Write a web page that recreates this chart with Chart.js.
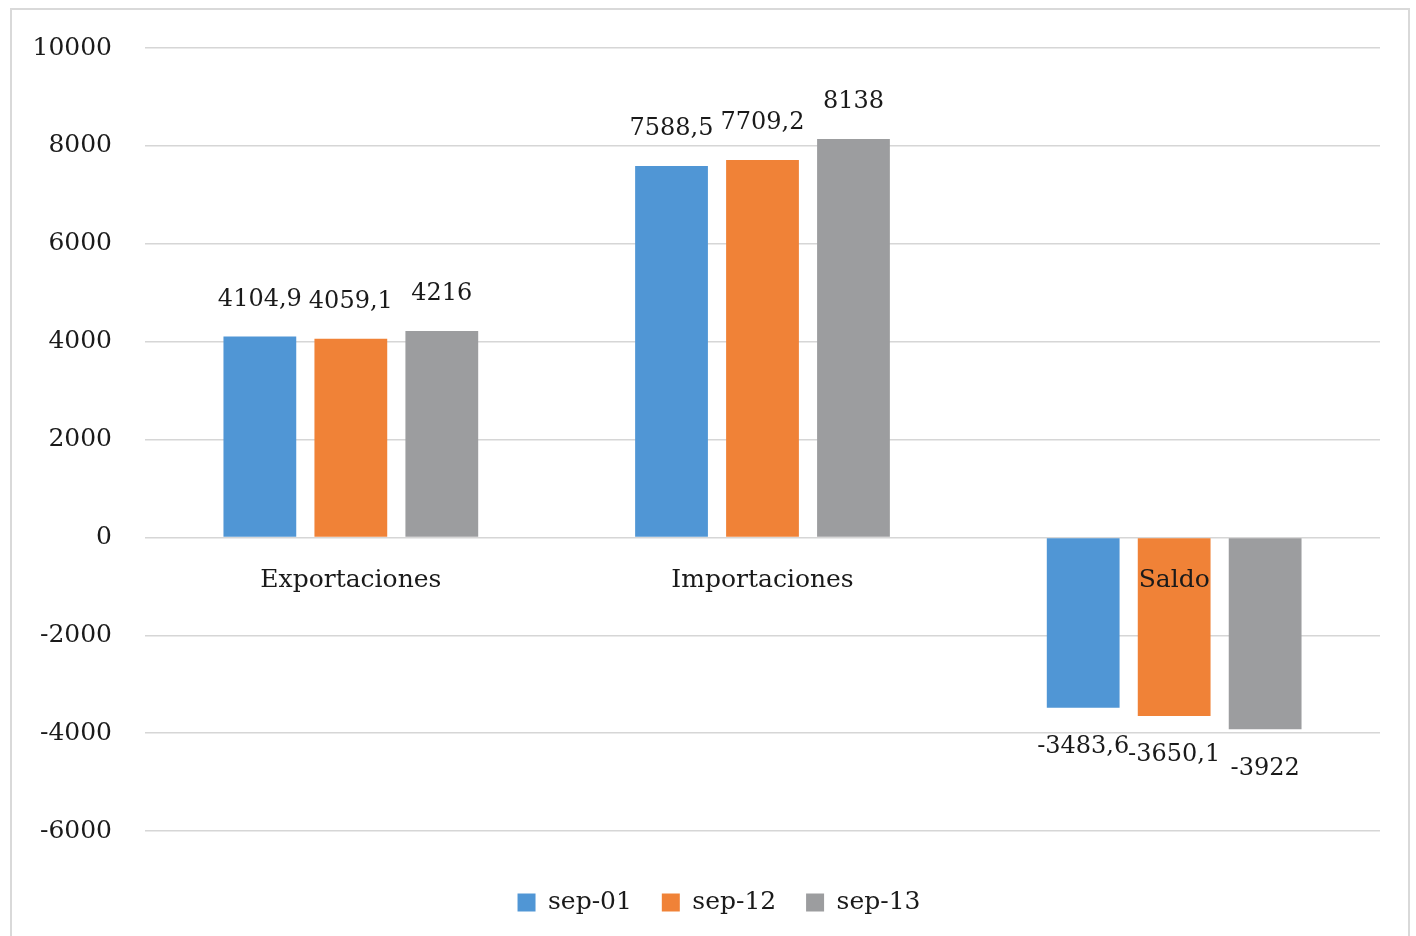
<!DOCTYPE html>
<html>
<head>
<meta charset="utf-8">
<script src="https://cdn.jsdelivr.net/npm/chart.js@4/dist/chart.umd.min.js"></script>
<style>
  html, body { margin: 0; padding: 0; background: #fff; }
  #wrap { width: 1416px; height: 936px; }
</style>
</head>
<body>
<div id="wrap"><canvas id="balanza"></canvas></div>
<script>
const categories = ['Exportaciones', 'Importaciones', 'Saldo'];
const seriesNames = ['sep-01', 'sep-12', 'sep-13'];
const sep01 = [4104.9, 7588.5, -3483.6];
const sep12 = [4059.1, 7709.2, -3650.1];
const sep13 = [4216, 8138, -3922];
const yTicks = [-6000, -4000, -2000, 0, 2000, 4000, 6000, 8000, 10000];

const colors = ['#5096d5', '#f08237', '#9c9d9f'];
const serif = '"DejaVu Serif", serif';
const ink = '#1a1a1a';

const fmt = v => String(v).replace('.', ',');

// grey frame round the chart
const framePlugin = {
  id: 'frame',
  beforeDraw(chart) {
    const c = chart.ctx;
    c.save();
    c.fillStyle = '#fff';
    c.fillRect(0, 0, chart.width, chart.height);
    c.strokeStyle = '#d9d9d9';
    c.lineWidth = 2;
    c.strokeRect(11, 9, 1398, 940);
    c.restore();
  }
};

// value labels above / below each bar
const valueLabels = {
  id: 'valueLabels',
  afterDatasetsDraw(chart) {
    const c = chart.ctx;
    c.save();
    c.font = '24px ' + serif;
    c.fillStyle = ink;
    c.textAlign = 'center';
    c.textBaseline = 'middle';
    chart.data.datasets.forEach((ds, i) => {
      chart.getDatasetMeta(i).data.forEach((bar, j) => {
        const v = ds.data[j];
        const y = v >= 0 ? bar.y - 37 : bar.y + 39;
        c.fillText(fmt(v), bar.x, y);
      });
    });
    c.restore();
  }
};

new Chart(document.getElementById('balanza'), {
  type: 'bar',
  data: {
    labels: categories,
    datasets: [sep01, sep12, sep13].map((d, i) => ({
      label: seriesNames[i],
      data: d,
      backgroundColor: colors[i],
      categoryPercentage: 0.663,
      barPercentage: 0.8,
    })),
  },
  options: {
    responsive: true,
    maintainAspectRatio: false,
    animation: false,
    layout: { padding: { top: 30, right: 0, bottom: 11, left: 22 } },
    scales: {
      x: {
        position: { y: 0 },
        grid: { display: false, drawTicks: false },
        border: { display: false },
        ticks: { z: 1, font: { family: serif, size: 25 }, color: ink, padding: 28 },
      },
      xSpace: {
        type: 'category',
        labels: categories,
        position: 'bottom',
        grid: { display: false },
        border: { display: false },
        ticks: { display: false },
        afterFit: s => { s.height = 45; },
      },
      y: {
        min: -6000,
        max: 10000,
        afterBuildTicks: s => { s.ticks = yTicks.map(v => ({ value: v })); },
        afterFit: s => { s.width = 123; },
        grid: { color: '#d6d6d6', lineWidth: 1.5, drawTicks: false },
        border: { display: false },
        ticks: {
          font: { family: serif, size: 25 },
          color: ink,
          padding: 33,
          callback: v => String(v),
        },
      },
      ySpace: {
        type: 'linear',
        position: 'right',
        grid: { display: false },
        border: { display: false },
        ticks: { display: false },
        afterFit: s => { s.width = 36; },
      },
    },
    plugins: {
      legend: {
        position: 'bottom',
        labels: {
          boxWidth: 18,
          boxHeight: 18,
          padding: 14,
          color: ink,
          font: { family: serif, size: 25 },
          // widen the gap between entries without adding vertical room
          generateLabels: chart => Chart.defaults.plugins.legend.labels
            .generateLabels(chart)
            .map((l, i, all) => (i < all.length - 1 ? { ...l, text: l.text + '  ' } : l)),
        },
      },
      tooltip: { enabled: false },
    },
  },
  plugins: [framePlugin, valueLabels],
});
</script>
</body>
</html>
